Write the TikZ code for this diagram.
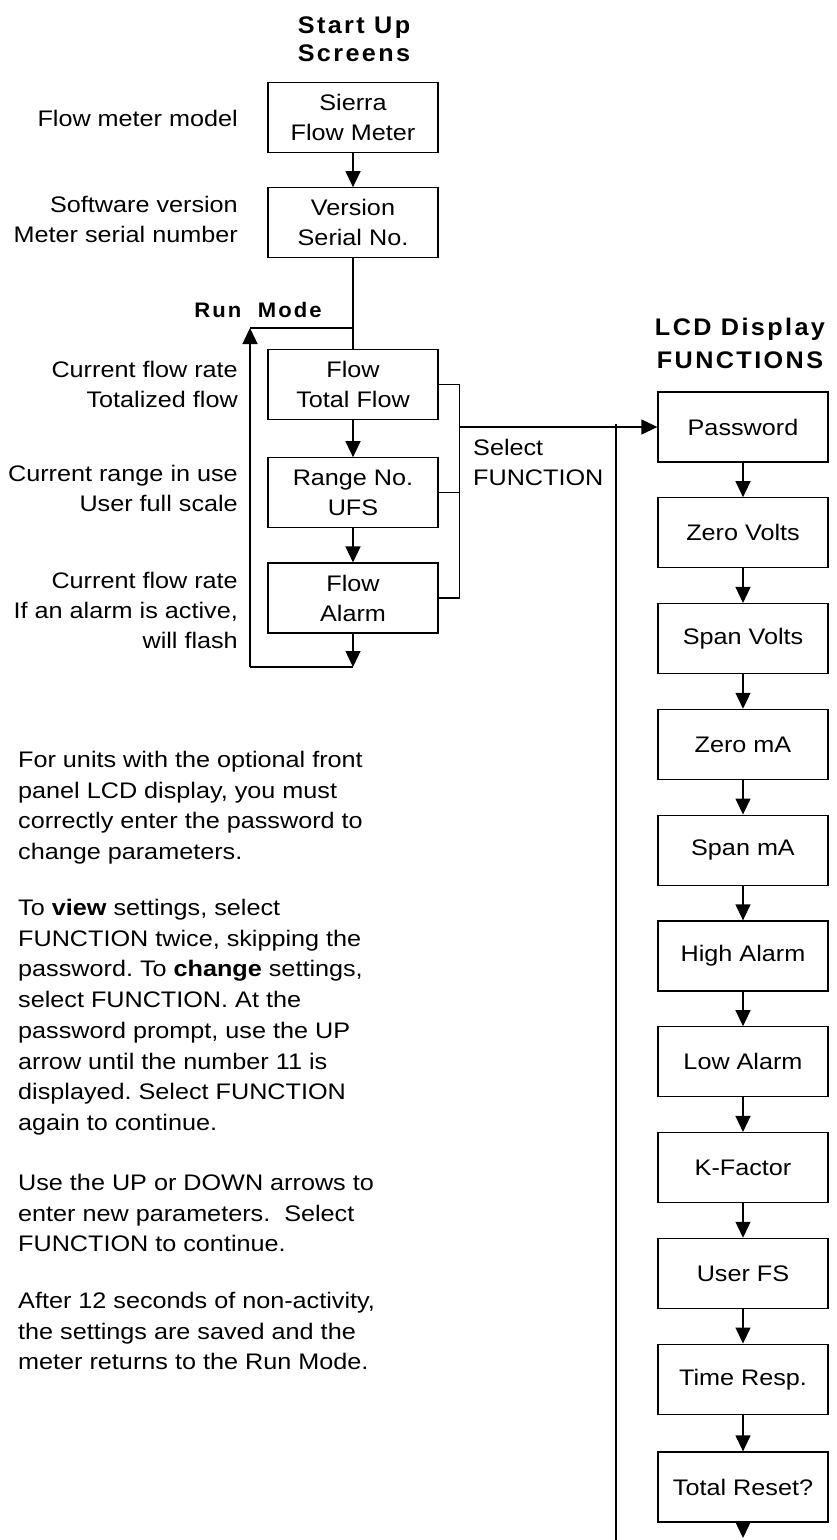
\documentclass[tikz,border=0pt]{standalone}
\usepackage{fontspec}
\setmainfont[FakeStretch=1.12]{Liberation Sans}
\newfontfamily\ttlfont[LetterSpace=10,FakeStretch=1.05]{Liberation Sans}
\usetikzlibrary{arrows.meta,positioning,calc}
\frenchspacing

\begin{document}
\begin{tikzpicture}[x=1pt,y=-1pt,
  font=\fontsize{22.5}{30}\selectfont,
  b/.style={draw, line width=1.3pt, minimum width=170pt, minimum height=70pt, align=center, inner sep=2pt},
  a/.style={-{Triangle[length=16pt,width=15pt]}, line width=1.3pt},
  ln/.style={line width=1.3pt},
  t/.style={font=\ttlfont\bfseries\fontsize{24}{28}\selectfont, align=center},
  lbl/.style={align=right, anchor=east, inner sep=0pt},
  para/.style={align=left, anchor=north west, inner sep=0pt, font=\fontsize{22.5}{30.7}\selectfont}
]
\useasboundingbox (0,0) rectangle (836,1540);

% start up screens
\node[t] (hs) at (354,39) {Start~Up\\Screens};
\node[b] (sfm) at (353,117.5) {Sierra\\Flow Meter};
\node[b, below=34pt of sfm] (ver) {Version\\Serial No.};

% run mode
\node[t, font=\ttlfont\bfseries\fontsize{21}{26}\selectfont] (rm) at (258,310) {Run~~Mode};
\node[b] (flw) at (353,384.5) {Flow\\Total Flow};
\node[b, below=37pt of flw] (rng) {Range No.\\UFS};
\node[b, below=34pt of rng] (alm) {Flow\\Alarm};

\node[lbl] (lb1) at (238,118) {Flow meter model};
\node[lbl] (lb2) at (238,219) {Software version\\Meter serial number};
\node[lbl] (lb3) at (238,384) {Current flow rate\\Totalized flow};
\node[lbl] (lb4) at (238,488) {Current range in use\\User full scale};
\node[lbl] (lb5) at (238,610) {Current flow rate\\If an alarm is active,\\will flash};

\coordinate (jn) at (353,328);
\coordinate (lpT) at (250,328);
\coordinate (lpB) at (250,667);
\coordinate (lpE) at (353,667);

\draw[a] (sfm) -- (ver);
\draw[ln] (ver) -- (flw);
\draw[a] (flw) -- (rng);
\draw[a] (rng) -- (alm);
\draw[a] (alm) -- (lpE);
\draw[ln] (lpE) -- (lpB);
\draw[a] (lpB) -- (lpT);
\draw[ln] (lpT) -- (jn);

% lcd display functions
\node[t, font=\ttlfont\bfseries\fontsize{24}{33}\selectfont] (hl) at (740,343) {LCD~Display\\FUNCTIONS};
\node[b] (pwd) at (743,427) {Password};
\node[b, below=34.5pt of pwd] (zv) {Zero Volts};
\node[b, below=34.5pt of zv] (sv) {Span Volts};
\node[b, below=34.5pt of sv] (zma) {Zero mA};
\node[b, below=34.5pt of zma] (sma) {Span mA};
\node[b, below=34.5pt of sma] (ha) {High Alarm};
\node[b, below=34.5pt of ha] (la) {Low Alarm};
\node[b, below=34.5pt of la] (kf) {K-Factor};
\node[b, below=34.5pt of kf] (ufs) {User FS};
\node[b, below=34.5pt of ufs] (tr) {Time Resp.};
\node[b, below=36.5pt of tr] (trs) {Total Reset?};
\coordinate (endR) at (743,1538);

\draw[a] (pwd) -- (zv);
\draw[a] (zv) -- (sv);
\draw[a] (sv) -- (zma);
\draw[a] (zma) -- (sma);
\draw[a] (sma) -- (ha);
\draw[a] (ha) -- (la);
\draw[a] (la) -- (kf);
\draw[a] (kf) -- (ufs);
\draw[a] (ufs) -- (tr);
\draw[a] (tr) -- (trs);
\draw[a] (trs) -- (endR);

% select function bracket
\draw[ln] (flw.east) -- ++(21,0) coordinate (brT) |- (alm.east);
\draw[ln] (rng.east) -- ++(21,0);
\coordinate (sel) at (brT |- pwd.west);
\draw[a] (sel) -- (pwd.west);
\node[align=left, anchor=west, inner sep=0pt] (selt) at (473,462) {Select\\FUNCTION};
\coordinate (vT) at (616,424);
\coordinate (vB) at (616,1540);
\draw[ln] (vT) -- (vB);

% notes
\node[para] (p1) at (18,751) {For units with the optional front\\panel LCD display, you must\\correctly enter the password to\\change parameters.};
\node[para] (p2) at (18,899) {To \textbf{view} settings, select\\FUNCTION twice, skipping the\\password. To \textbf{change} settings,\\select FUNCTION. At the\\password prompt, use the UP\\arrow until the number 11 is\\displayed. Select FUNCTION\\again to continue.};
\node[para] (p3) at (18,1174) {Use the UP or DOWN arrows to\\enter new parameters.\ \ Select\\FUNCTION to continue.};
\node[para] (p4) at (18,1292) {After 12 seconds of non-activity,\\the settings are saved and the\\meter returns to the Run Mode.};
\end{tikzpicture}
\end{document}
